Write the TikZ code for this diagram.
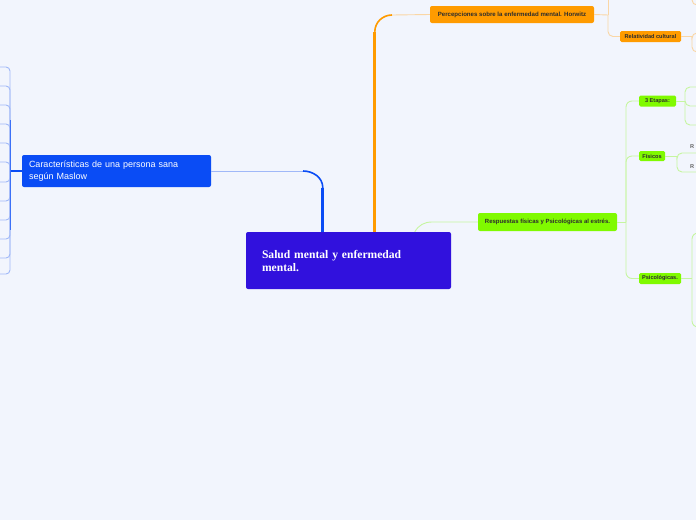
\documentclass[tikz,border=0pt]{standalone}
\usepackage{fontspec}
\setmainfont{Liberation Sans}
\newfontfamily\titlefont{Liberation Serif}
\usetikzlibrary{calc}

\definecolor{bgcol}{RGB}{242,245,253}
\definecolor{centercol}{RGB}{49,17,221}
\definecolor{bluecol}{RGB}{10,76,245}
\definecolor{bluelight}{RGB}{160,184,248}
\definecolor{orangecol}{RGB}{255,155,0}
\definecolor{orangelight}{RGB}{250,214,165}
\definecolor{greencol}{RGB}{128,250,0}
\definecolor{greenlight}{RGB}{198,245,160}
\definecolor{txtcol}{RGB}{45,45,45}

\begin{document}
\begin{tikzpicture}[x=1pt, y=-1pt,
    centerbox/.style={fill=centercol, text=white, rounded corners=2pt, inner sep=0pt,
        minimum width=205pt, minimum height=57pt, text width=173pt, align=left,
        font=\titlefont\bfseries\fontsize{11.6}{13}\selectfont},
    mainbox/.style={fill=bluecol, text=white, rounded corners=2pt, inner sep=0pt,
        minimum width=189pt, minimum height=32pt, text width=175pt, align=left,
        font=\fontsize{9}{12}\selectfont},
    subbox/.style={rounded corners=2pt, inner sep=0pt, text=txtcol,
        font=\bfseries\fontsize{6.1}{7}\selectfont},
    leafbox/.style={rounded corners=1.5pt, inner sep=0pt, text=txtcol,
        font=\bfseries\fontsize{5.6}{6}\selectfont},
    bluelink/.style={draw=bluelight, line width=0.9pt},
    orangelink/.style={draw=orangelight, line width=0.9pt},
    greenlink/.style={draw=greenlight, line width=0.9pt}]

    % background and page size
    \fill[bgcol] (0,0) rectangle (696,520);
    \useasboundingbox (0,0) rectangle (696,520);

    % central topic
    \node[centerbox] (salud) at (348.5,260.5) {Salud mental y enfermedad\\mental.};

    % Maslow (blue)
    \node[mainbox] (maslow) at (116.5,171) {Características de una persona sana\\según Maslow};
    \coordinate (salud-b) at ($(salud.north west)+(77,0)$);
    \coordinate (maslow-b) at (10,171);
    \draw[bluelink] (maslow.east) -- (303,171);
    \draw[bluecol, line width=1.6pt] (303,171) to[out=0, in=90] ($(salud-b)+(0,-44)$);
    \draw[bluecol, line width=3pt] ($(salud-b)+(0,-44)$) -- (salud-b);
    \draw[bluecol, line width=1.6pt] (maslow.west) -- (maslow-b);
    \foreach \y in {67,86,105,124,143,162,182,201,220,239,258,274}
        \draw[bluelink, rounded corners=4pt] (maslow-b) |- (-10,\y);
    \draw[bluecol!80, line width=1pt] (10,120) -- (10,230);

    % Horwitz (orange)
    \node[subbox, fill=orangecol, minimum width=164pt, minimum height=17pt] (perc) at (512,14.5)
        {Percepciones sobre la enfermedad mental. Horwitz};
    \node[leafbox, fill=orangecol, minimum width=61pt, minimum height=11pt] (rel) at (650.5,36.5)
        {Relatividad cultural};
    \coordinate (salud-o) at ($(salud.north west)+(129,0)$);
    \coordinate (perc-b) at (608,15);
    \coordinate (rel-b) at (692,36.5);
    \draw[orangecol, line width=3pt] (salud-o) -- ($(salud-o)+(0,-200)$);
    \draw[orangecol, line width=1.6pt] ($(salud-o)+(0,-200)$) to[out=90, in=180] (392,15);
    \draw[orangelink] (392,15) -- (perc.west);
    \draw[orangelink] (perc.east) -- (perc-b);
    \draw[orangelink, rounded corners=5pt] (perc-b) |- (rel.west);
    \draw[orangelink] (perc-b) -- (608,-10);
    \draw[orangelink, rounded corners=5pt] (692,-10) |- (710,5);
    \draw[orangelink] (rel.east) -- (rel-b);
    \draw[orangelink, rounded corners=5pt] (rel-b) |- (710,33);
    \draw[orangelink, rounded corners=5pt] (rel-b) |- (710,52);

    % estres (green)
    \node[subbox, fill=greencol, minimum width=139pt, minimum height=18pt,
        font=\bfseries\fontsize{6}{7}\selectfont] (resp) at (547.5,222)
        {Respuestas físicas y Psicológicas al estrés.};
    \node[leafbox, fill=greencol, minimum width=37pt, minimum height=11pt] (etapas) at (657.5,101) {3 Etapas:};
    \node[leafbox, fill=greencol, minimum width=26pt, minimum height=10pt] (fisicos) at (652,156) {Físicos};
    \node[leafbox, fill=greencol, minimum width=42pt, minimum height=11pt] (psico) at (660,278.5) {Psicológicas.};
    \coordinate (salud-g) at ($(salud.north west)+(169,0)$);
    \coordinate (resp-b) at (626,222);
    \draw[greenlink] (salud-g) to[out=60, in=180] (432,222) -- (resp.west);
    \draw[greenlink] (resp.east) -- (resp-b);
    \foreach \n in {etapas,fisicos,psico}
        \draw[greenlink, rounded corners=6pt] (resp-b) |- (\n.west);

    % 3 Etapas
    \coordinate (etapas-b) at (685,101);
    \draw[greenlink] (etapas.east) -- (etapas-b);
    \foreach \y in {87,106,125}
        \draw[greenlink, rounded corners=5pt] (etapas-b) |- (710,\y);

    % Fisicos
    \coordinate (fisicos-b) at (677,156);
    \draw[greenlink] (fisicos.east) -- (fisicos-b);
    \foreach \y in {153,172}
        \draw[greenlink, rounded corners=5pt] (fisicos-b) |- (710,\y);
    \node[leafbox, anchor=west, text=gray!80!black] (r1) at (690,147) {R};
    \node[leafbox, anchor=west, text=gray!80!black] (r2) at (690,166.5) {R};

    % Psicologicas
    \coordinate (psico-b) at (692,278.5);
    \draw[greenlink] (psico.east) -- (psico-b);
    \draw[greenlink, rounded corners=6pt] (psico-b) |- (710,233);
    \draw[greenlink, rounded corners=6pt] (psico-b) |- (710,327);
\end{tikzpicture}
\end{document}
